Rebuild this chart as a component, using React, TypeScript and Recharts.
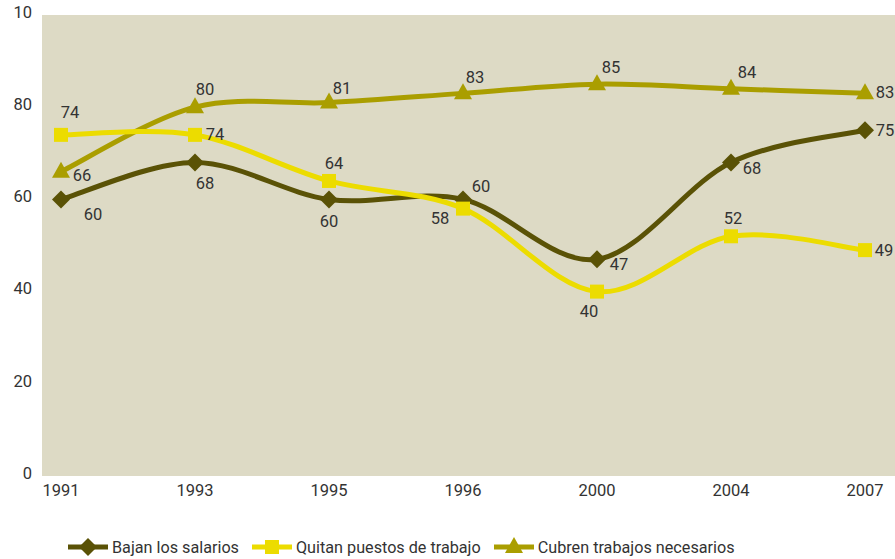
import React from "react";
import { LineChart, Line, XAxis, YAxis, CartesianGrid } from "recharts";

const YEARS = ["1991", "1993", "1995", "1996", "2000", "2004", "2007"];
const BAJAN = [60, 68, 60, 60, 47, 68, 75];
const QUITAN = [74, 74, 64, 58, 40, 52, 49];
const CUBREN = [66, 80, 81, 83, 85, 84, 83];
const Y_TICKS = [0, 20, 40, 60, 80, 100];
const Y_TICK_LABELS = ["0", "20", "40", "60", "80", "10"];

// label offsets (dx, dy) from each point
const BAJAN_LBL = [[32, 15], [10, 21], [0, 22], [18, -13], [22, 5], [21, 6], [20, 0]];
const QUITAN_LBL = [[9, -22], [20, 0], [5, -17], [-23, 10], [-8, 20], [2, -18], [19, 0]];
const CUBREN_LBL = [[21, 4], [10, -18], [13, -14], [12, -16], [14, -17], [16, -16], [20, -1]];

const FONT = "Roboto, 'Open Sans', sans-serif";
const TEXT = "#333333";

const SERIES = [
  { key: "bajan", name: "Bajan los salarios", color: "#5a5206", marker: "diamond", labels: BAJAN_LBL },
  { key: "quitan", name: "Quitan puestos de trabajo", color: "#ecdc00", marker: "square", labels: QUITAN_LBL },
  { key: "cubren", name: "Cubren trabajos necesarios", color: "#aa9e00", marker: "triangle", labels: CUBREN_LBL },
];

const data = YEARS.map((year, i) => ({
  year,
  bajan: BAJAN[i],
  quitan: QUITAN[i],
  cubren: CUBREN[i],
}));

// Catmull-Rom style smoothing, similar to the spreadsheet "smoothed line"
function smoothCurve(context: any) {
  let pts: [number, number][] = [];
  let area = NaN;
  const k = 1 / 6;
  return {
    areaStart() { area = 0; },
    areaEnd() { area = NaN; },
    lineStart() { pts = []; },
    point(x: number, y: number) { pts.push([+x, +y]); },
    lineEnd() {
      const n = pts.length;
      if (!n) return;
      if (area === 1) context.lineTo(pts[0][0], pts[0][1]);
      else context.moveTo(pts[0][0], pts[0][1]);
      for (let i = 0; i < n - 1; i++) {
        const p0 = pts[i - 1] || pts[i];
        const p1 = pts[i];
        const p2 = pts[i + 1];
        const p3 = pts[i + 2] || p2;
        context.bezierCurveTo(
          p1[0] + (p2[0] - p0[0]) * k,
          p1[1] + (p2[1] - p0[1]) * k,
          p2[0] - (p3[0] - p1[0]) * k,
          p2[1] - (p3[1] - p1[1]) * k,
          p2[0],
          p2[1]
        );
      }
      if (area === 0) area = 1;
    },
  };
}

function markerPath(kind: string, cx: number, cy: number) {
  if (kind === "diamond") return `M${cx},${cy - 9}L${cx + 9},${cy}L${cx},${cy + 9}L${cx - 9},${cy}Z`;
  if (kind === "square") return `M${cx - 7},${cy - 7}h14v14h-14Z`;
  return `M${cx},${cy - 10}L${cx + 9},${cy + 6}L${cx - 9},${cy + 6}Z`;
}

function makeDot(kind: string, color: string, labels: number[][], values: number[]) {
  return (props: any) => {
    const { cx, cy, index } = props;
    const off = labels[index] || [0, 0];
    return (
      <g key={`${kind}-${index}`}>
        <path d={markerPath(kind, cx, cy)} fill={color} />
        <text
          x={cx + off[0]}
          y={cy + off[1]}
          textAnchor="middle"
          dominantBaseline="central"
          fontSize={16.5}
          fontFamily={FONT}
          fill={TEXT}
        >
          {values[index]}
        </text>
      </g>
    );
  };
}

const VALUES: Record<string, number[]> = { bajan: BAJAN, quitan: QUITAN, cubren: CUBREN };

function LegendIcon({ kind, color }: { kind: string; color: string }) {
  return (
    <svg width={40} height={20} style={{ display: "block" }}>
      <line x1={0} y1={10} x2={40} y2={10} stroke={color} strokeWidth={5} />
      <path d={markerPath(kind, 20, 10)} fill={color} />
    </svg>
  );
}

export default function App() {
  return (
    <div style={{ position: "absolute", left: 0, top: 0, width: 895, height: 559, background: "#fff" }}>
      <LineChart width={895} height={559} data={data} margin={{ top: 15, right: 0, bottom: 53, left: 0 }}>
        <CartesianGrid horizontal={false} vertical={false} fill="#dddac5" />
        <XAxis
          dataKey="year"
          height={30}
          padding={{ left: 19, right: 30 }}
          axisLine={false}
          tickLine={false}
          tick={{ fill: TEXT, fontSize: 16.5, fontFamily: FONT }}
        />
        <YAxis
          width={42}
          domain={[0, 100]}
          ticks={Y_TICKS}
          interval={0}
          axisLine={false}
          tickLine={false}
          tickMargin={4}
          tickFormatter={(v: number) => Y_TICK_LABELS[Y_TICKS.indexOf(v)]}
          tick={{ fill: TEXT, fontSize: 16.5, fontFamily: FONT, dy: -3 }}
        />
        {[SERIES[0], SERIES[2], SERIES[1]].map((s) => (
          <Line
            key={s.key}
            dataKey={s.key}
            name={s.name}
            type={smoothCurve as any}
            stroke={s.color}
            strokeWidth={5}
            dot={makeDot(s.marker, s.color, s.labels, VALUES[s.key])}
            activeDot={false}
            isAnimationActive={false}
          />
        ))}
      </LineChart>
      <div
        style={{
          position: "absolute",
          left: 68,
          top: 537,
          display: "flex",
          alignItems: "center",
          fontFamily: FONT,
          fontSize: 16.2,
          color: TEXT,
          whiteSpace: "nowrap",
        }}
      >
        {SERIES.map((s) => (
          <div key={s.key} style={{ display: "flex", alignItems: "center", marginRight: 13 }}>
            <LegendIcon kind={s.marker} color={s.color} />
            <span style={{ marginLeft: 4 }}>{s.name}</span>
          </div>
        ))}
      </div>
    </div>
  );
}
